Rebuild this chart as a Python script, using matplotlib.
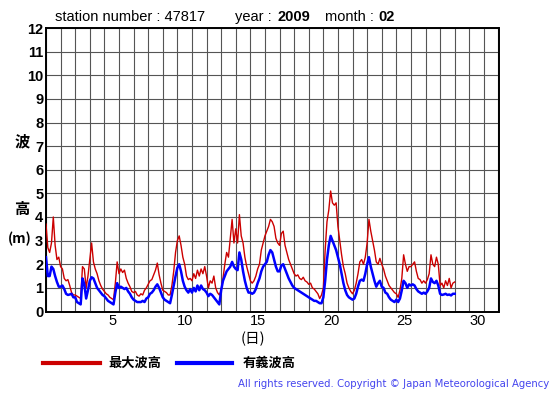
import numpy as np
import matplotlib
matplotlib.use("Agg")
import matplotlib.pyplot as plt

plt.rcParams['font.family'] = ['Liberation Sans', 'DejaVu Sans']

# 3-hourly values, one row per day (Feb 2009, station 47817)
max_wave = [
    3.7, 2.7, 2.5, 2.9, 4.0, 2.8, 2.2, 2.3,      # 1
    1.9, 1.8, 1.4, 1.3, 1.35, 1.1, 0.8, 0.7,     # 2
    0.7, 0.65, 0.6, 0.55, 1.9, 1.8, 1.0, 1.5,    # 3
    2.2, 2.9, 2.1, 1.8, 1.6, 1.3, 1.1, 0.95,     # 4
    0.85, 0.75, 0.7, 0.6, 0.55, 0.5, 1.2, 2.1,   # 5
    1.6, 1.8, 1.65, 1.75, 1.4, 1.2, 1.05, 0.85,  # 6
    0.8, 0.85, 0.7, 0.65, 0.75, 0.7, 0.9, 1.0,   # 7
    1.15, 1.3, 1.35, 1.55, 1.75, 2.05, 1.55, 1.2,  # 8
    0.9, 0.85, 0.8, 0.7, 0.7, 1.1, 1.7, 2.5,     # 9
    3.0, 3.2, 2.8, 2.3, 2.0, 1.5, 1.35, 1.4,     # 10
    1.3, 1.6, 1.4, 1.75, 1.5, 1.8, 1.6, 1.9,     # 11
    1.5, 1.0, 1.3, 1.2, 1.5, 1.0, 0.8, 0.7,      # 12
    0.9, 1.4, 2.0, 2.5, 2.3, 3.1, 3.9, 2.9,      # 13
    3.5, 2.9, 4.1, 3.2, 2.9, 2.3, 1.9, 1.6,      # 14
    1.3, 1.2, 1.3, 1.5, 1.8, 2.0, 2.6, 2.9,      # 15
    3.2, 3.4, 3.6, 3.9, 3.8, 3.6, 3.1, 2.9,      # 16
    2.8, 3.3, 3.4, 2.8, 2.5, 2.2, 2.0, 1.8,      # 17
    1.6, 1.5, 1.55, 1.4, 1.35, 1.45, 1.3, 1.25,  # 18
    1.15, 1.2, 1.0, 0.95, 0.85, 0.75, 0.55, 0.7,  # 19
    1.0, 2.6, 3.8, 4.3, 5.1, 4.6, 4.5, 4.6,      # 20
    3.6, 3.0, 2.4, 1.9, 1.6, 1.2, 1.0, 0.85,     # 21
    0.75, 0.9, 1.2, 1.6, 2.1, 2.2, 2.0, 2.3,     # 22
    2.9, 3.9, 3.4, 3.0, 2.6, 2.1, 2.0, 2.25,     # 23
    2.0, 1.8, 1.5, 1.3, 1.1, 1.0, 0.9, 0.8,      # 24
    0.75, 0.6, 0.9, 1.4, 2.4, 2.0, 1.7, 1.9,     # 25
    1.9, 2.0, 2.1, 1.7, 1.4, 1.35, 1.2, 1.3,     # 26
    1.2, 1.35, 1.6, 2.4, 2.0, 1.9, 2.3, 2.0,     # 27
    1.1, 1.2, 1.0, 1.3, 1.1, 1.4, 1.0, 1.2,      # 28
    1.25,
]

sig_wave = [
    2.3, 1.5, 1.5, 1.9, 1.8, 1.5, 1.25, 1.05,    # 1
    1.05, 1.1, 0.95, 0.75, 0.7, 0.72, 0.75, 0.6,  # 2
    0.6, 0.4, 0.35, 0.3, 1.4, 1.15, 0.55, 0.9,   # 3
    1.3, 1.45, 1.4, 1.2, 1.0, 0.9, 0.8, 0.7,     # 4
    0.65, 0.55, 0.45, 0.4, 0.35, 0.3, 0.8, 1.2,  # 5
    1.0, 1.05, 1.0, 0.95, 1.0, 0.85, 0.75, 0.6,  # 6
    0.5, 0.45, 0.4, 0.4, 0.4, 0.45, 0.4, 0.55,   # 7
    0.6, 0.75, 0.8, 0.9, 1.05, 1.15, 1.0, 0.8,   # 8
    0.6, 0.5, 0.45, 0.4, 0.35, 0.7, 1.1, 1.5,    # 9
    1.85, 2.0, 1.7, 1.3, 1.05, 0.9, 0.8, 0.95,   # 10
    0.8, 1.0, 0.85, 1.1, 0.9, 1.1, 0.95, 0.9,    # 11
    0.8, 0.65, 0.75, 0.7, 0.6, 0.5, 0.4, 0.3,    # 12
    0.9, 1.3, 1.5, 1.7, 1.8, 1.9, 2.1, 1.9,      # 13
    1.8, 1.75, 2.5, 2.2, 1.7, 1.3, 1.0, 0.8,     # 14
    0.8, 0.75, 0.8, 0.95, 1.2, 1.4, 1.7, 1.9,    # 15
    2.0, 2.1, 2.4, 2.6, 2.5, 2.2, 1.9, 1.7,      # 16
    1.7, 1.95, 2.0, 1.8, 1.6, 1.4, 1.25, 1.1,    # 17
    1.0, 0.95, 0.9, 0.85, 0.8, 0.75, 0.7, 0.65,  # 18
    0.6, 0.55, 0.5, 0.45, 0.45, 0.4, 0.35, 0.35,  # 19
    0.6, 1.3, 2.2, 2.8, 3.2, 3.0, 2.8, 2.6,      # 20
    2.3, 2.0, 1.6, 1.2, 0.9, 0.7, 0.6, 0.55,     # 21
    0.5, 0.55, 0.75, 1.05, 1.3, 1.35, 1.3, 1.6,  # 22
    2.0, 2.3, 1.9, 1.6, 1.3, 1.05, 1.2, 1.3,     # 23
    1.05, 1.0, 0.8, 0.75, 0.6, 0.5, 0.45, 0.4,   # 24
    0.5, 0.4, 0.55, 0.9, 1.3, 1.2, 1.0, 1.15,    # 25
    1.1, 1.15, 1.1, 0.95, 0.85, 0.8, 0.75, 0.8,  # 26
    0.75, 0.85, 1.0, 1.4, 1.25, 1.2, 1.3, 1.1,   # 27
    0.75, 0.7, 0.72, 0.75, 0.7, 0.72, 0.68, 0.75,  # 28
    0.75,
]

day_labels = [5, 10, 15, 20, 25, 30]
n_days = 31

t = np.arange(len(max_wave)) * 3 / 24.0

fig = plt.figure(figsize=(5.55, 3.95), dpi=100)
ax = fig.add_axes([46 / 555, 1 - 311.5 / 395, 452.5 / 555, 283.5 / 395])

ax.plot(t, max_wave, color='#cc0000', lw=1.0, zorder=3)
ax.plot(t, sig_wave, color='#0000ff', lw=1.8, zorder=4)

ax.set_xlim(0, n_days)
ax.set_ylim(0, 12)
ax.set_xticks(np.arange(0, n_days + 1))
ax.set_yticks(np.arange(0, 13))
ax.grid(True, color='#555555', lw=0.8)
ax.tick_params(length=0)
ax.set_xticklabels([])
ax.set_yticklabels([str(v) for v in range(13)], fontweight='bold', fontsize=10.5)
ax.tick_params(axis='y', pad=2)
for s in ax.spines.values():
    s.set_linewidth(1.4)
    s.set_color('black')

for d in day_labels:
    ax.text(d - 0.45, -0.42, str(d), ha='center', va='center', fontsize=10.5)

cjk = ['Noto Sans CJK JP', 'DejaVu Sans']
fig.text(22 / 555, 1 - 141 / 395, '波', ha='center', va='center', fontsize=11,
         fontweight='bold', family=cjk)
fig.text(22 / 555, 1 - 209 / 395, '高', ha='center', va='center', fontsize=11,
         fontweight='bold', family=cjk)
fig.text(20 / 555, 1 - 239 / 395, '(m)', ha='center', va='center', fontsize=10,
         fontweight='bold', family=cjk)
fig.text(253 / 555, 1 - 339 / 395, '(日)', ha='center', va='center', fontsize=10.5,
         family=cjk)

# title parts
fig.text(55 / 555, 1 - 17 / 395, 'station number : 47817', ha='left', va='center', fontsize=10.5)
fig.text(235 / 555, 1 - 17 / 395, 'year : ', ha='left', va='center', fontsize=10.5)
fig.text(277 / 555, 1 - 17 / 395, '2009', ha='left', va='center', fontsize=10.5, fontweight='bold')
fig.text(325 / 555, 1 - 17 / 395, 'month : ', ha='left', va='center', fontsize=10.5)
fig.text(378 / 555, 1 - 17 / 395, '02', ha='left', va='center', fontsize=10.5, fontweight='bold')

# legend
fig.add_artist(plt.Line2D([43 / 555, 100 / 555], [1 - 363 / 395] * 2, color='#cc0000', lw=3))
fig.text(108 / 555, 1 - 363 / 395, '最大波高', ha='left', va='center', fontsize=9.5,
         fontweight='bold', family=cjk)
fig.add_artist(plt.Line2D([177 / 555, 232 / 555], [1 - 363 / 395] * 2, color='#0000ff', lw=3))
fig.text(243 / 555, 1 - 363 / 395, '有義波高', ha='left', va='center', fontsize=9.5,
         fontweight='bold', family=cjk)

fig.text(549 / 555, 1 - 384 / 395,
         'All rights reserved. Copyright \u00a9 Japan Meteorological Agency',
         ha='right', va='center', fontsize=7.3, color='#4444ee', family='DejaVu Sans')

fig.savefig('out.png', dpi=100)
